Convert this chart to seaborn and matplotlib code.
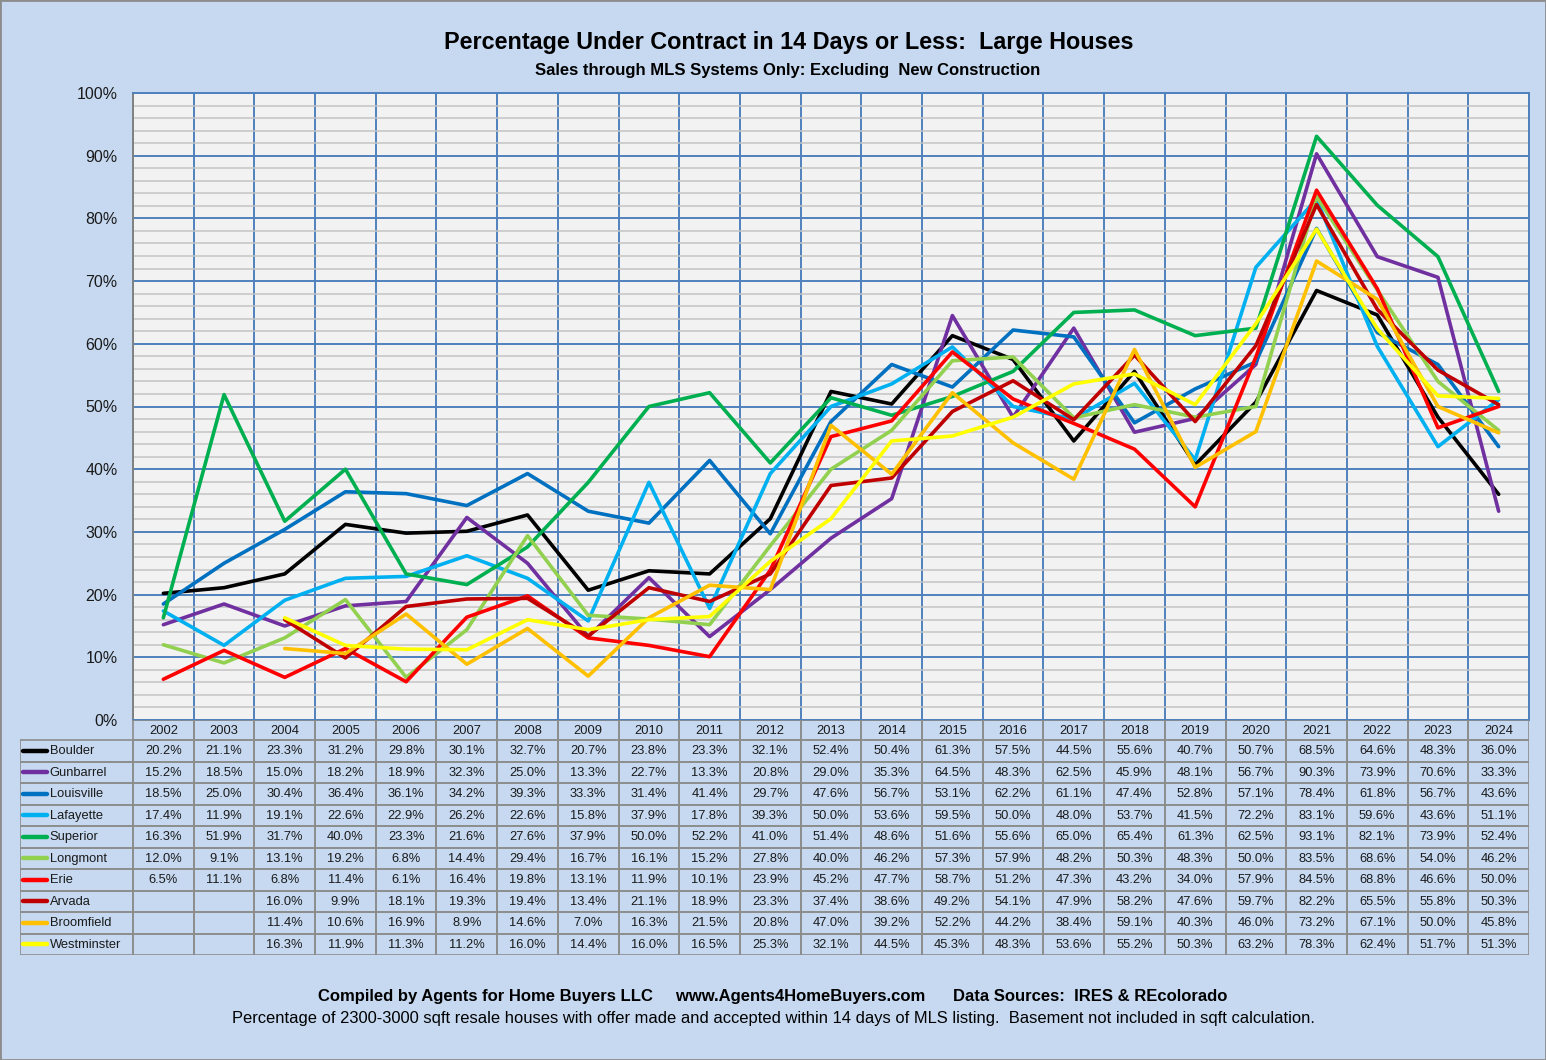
import numpy as np
import pandas as pd
import matplotlib
matplotlib.use("Agg")
import matplotlib.pyplot as plt
import seaborn as sns

# data
years = [str(y) for y in range(2002, 2025)]
towns = ["Boulder", "Gunbarrel", "Louisville", "Lafayette", "Superior",
         "Longmont", "Erie", "Arvada", "Broomfield", "Westminster"]
colors = ["#000000", "#7030A0", "#0070C0", "#00B0F0", "#00B050",
          "#92D050", "#FF0000", "#C00000", "#FFC000", "#FFFF00"]
nan = np.nan
boulder = [20.2, 21.1, 23.3, 31.2, 29.8, 30.1, 32.7, 20.7, 23.8, 23.3, 32.1, 52.4,
           50.4, 61.3, 57.5, 44.5, 55.6, 40.7, 50.7, 68.5, 64.6, 48.3, 36.0]
gunbarrel = [15.2, 18.5, 15.0, 18.2, 18.9, 32.3, 25.0, 13.3, 22.7, 13.3, 20.8, 29.0,
             35.3, 64.5, 48.3, 62.5, 45.9, 48.1, 56.7, 90.3, 73.9, 70.6, 33.3]
louisville = [18.5, 25.0, 30.4, 36.4, 36.1, 34.2, 39.3, 33.3, 31.4, 41.4, 29.7, 47.6,
              56.7, 53.1, 62.2, 61.1, 47.4, 52.8, 57.1, 78.4, 61.8, 56.7, 43.6]
lafayette = [17.4, 11.9, 19.1, 22.6, 22.9, 26.2, 22.6, 15.8, 37.9, 17.8, 39.3, 50.0,
             53.6, 59.5, 50.0, 48.0, 53.7, 41.5, 72.2, 83.1, 59.6, 43.6, 51.1]
superior = [16.3, 51.9, 31.7, 40.0, 23.3, 21.6, 27.6, 37.9, 50.0, 52.2, 41.0, 51.4,
            48.6, 51.6, 55.6, 65.0, 65.4, 61.3, 62.5, 93.1, 82.1, 73.9, 52.4]
longmont = [12.0, 9.1, 13.1, 19.2, 6.8, 14.4, 29.4, 16.7, 16.1, 15.2, 27.8, 40.0,
            46.2, 57.3, 57.9, 48.2, 50.3, 48.3, 50.0, 83.5, 68.6, 54.0, 46.2]
erie = [6.5, 11.1, 6.8, 11.4, 6.1, 16.4, 19.8, 13.1, 11.9, 10.1, 23.9, 45.2,
        47.7, 58.7, 51.2, 47.3, 43.2, 34.0, 57.9, 84.5, 68.8, 46.6, 50.0]
arvada = [nan, nan, 16.0, 9.9, 18.1, 19.3, 19.4, 13.4, 21.1, 18.9, 23.3, 37.4,
          38.6, 49.2, 54.1, 47.9, 58.2, 47.6, 59.7, 82.2, 65.5, 55.8, 50.3]
broomfield = [nan, nan, 11.4, 10.6, 16.9, 8.9, 14.6, 7.0, 16.3, 21.5, 20.8, 47.0,
              39.2, 52.2, 44.2, 38.4, 59.1, 40.3, 46.0, 73.2, 67.1, 50.0, 45.8]
westminster = [nan, nan, 16.3, 11.9, 11.3, 11.2, 16.0, 14.4, 16.0, 16.5, 25.3, 32.1,
               44.5, 45.3, 48.3, 53.6, 55.2, 50.3, 63.2, 78.3, 62.4, 51.7, 51.3]
series = [boulder, gunbarrel, louisville, lafayette, superior,
          longmont, erie, arvada, broomfield, westminster]

rows = []
for town, vals in zip(towns, series):
    for i, v in enumerate(vals):
        rows.append({"town": town, "idx": i, "pct": v})
df = pd.DataFrame(rows)

sns.set_style("white")
plt.rcParams["font.family"] = ["Liberation Sans", "DejaVu Sans"]
plt.rcParams["text.color"] = "black"

W, H = 1546, 1060
bg = "#C6D9F1"
blue = "#4F81BD"
fig = plt.figure(figsize=(W / 100, H / 100), dpi=100, facecolor=bg)

def box(l, t, r, b):
    return [l / W, 1 - b / H, (r - l) / W, (b - t) / H]

# ---- line chart
ax = fig.add_axes(box(133, 93, 1529, 720))
ax.set_facecolor("#F2F2F2")
sns.lineplot(data=df, x="idx", y="pct", hue="town", hue_order=towns,
             palette=dict(zip(towns, colors)), linewidth=2.6, errorbar=None,
             legend=False, ax=ax)
n = len(years)
ax.set_xlim(-0.5, n - 0.5)
ax.set_ylim(0, 100)
ax.set_yticks(np.arange(0, 101, 10))
ax.set_yticks(np.arange(0, 101, 2), minor=True)
ax.set_yticklabels([f"{v}%" for v in range(0, 101, 10)], fontsize=11.5, color="#1a1a1a")
ax.set_xticks(np.arange(-0.5, n, 1))
ax.set_xticklabels([])
ax.grid(which="minor", axis="y", color="#C4C4C4", lw=1.1, zorder=0)
ax.grid(which="major", axis="y", color=blue, lw=1.4, zorder=0)
ax.grid(which="major", axis="x", color=blue, lw=1.4, zorder=0)
ax.set_axisbelow(True)
ax.tick_params(axis="y", which="major", length=5, color="#808080", pad=6)
ax.tick_params(axis="y", which="minor", length=0)
ax.tick_params(axis="x", length=0)
ax.set_xlabel("")
ax.set_ylabel("")
for s in ax.spines.values():
    s.set_color(blue)
    s.set_linewidth(1.4)
ax.spines["left"].set_color("#808080")

# ---- data table
unit = (1529 - 133) / n
left = -0.5 - (133 - 20) / unit
tab = fig.add_axes(box(20, 720, 1529, 955))
tab.set_xlim(left, n - 0.5)
tab.set_ylim(235, 0)
tab.axis("off")
grey = "#8C8C8C"
hh, rh = 20, 21.5
for i, y in enumerate(years):
    tab.add_patch(plt.Rectangle((i - 0.5, 0), 1, hh, fc="none", ec=grey, lw=1.2))
    tab.text(i, hh / 2 + 0.5, y, ha="center", va="center", fontsize=9.3, color="#1a1a1a")
for r, (town, c, vals) in enumerate(zip(towns, colors, series)):
    y0 = hh + r * rh
    tab.add_patch(plt.Rectangle((left, y0), -0.5 - left, rh, fc="none", ec=grey, lw=1.2))
    tab.plot([left + 0.05, left + 0.45], [y0 + rh / 2] * 2, color=c, lw=3.2,
             solid_capstyle="round")
    tab.text(left + 0.49, y0 + rh / 2 + 0.5, town, ha="left", va="center",
             fontsize=9.3, color="#1a1a1a")
    for i, v in enumerate(vals):
        tab.add_patch(plt.Rectangle((i - 0.5, y0), 1, rh, fc="none", ec=grey, lw=1.2))
        if not np.isnan(v):
            tab.text(i, y0 + rh / 2 + 0.5, f"{v:.1f}%", ha="center", va="center",
                     fontsize=9.3, color="#1a1a1a")

# ---- titles and notes
fig.text(789 / W, 1 - 42 / H, "Percentage Under Contract in 14 Days or Less:  Large Houses",
         ha="center", va="center", fontsize=16.8, fontweight="bold")
fig.text(788 / W, 1 - 70 / H, "Sales through MLS Systems Only: Excluding  New Construction",
         ha="center", va="center", fontsize=12, fontweight="bold")
fig.text(773 / W, 1 - 996 / H,
         "Compiled by Agents for Home Buyers LLC     www.Agents4HomeBuyers.com      Data Sources:  IRES & REcolorado",
         ha="center", va="center", fontsize=12, fontweight="bold")
fig.text(773 / W, 1 - 1018 / H,
         "Percentage of 2300-3000 sqft resale houses with offer made and accepted within 14 days of MLS listing.  Basement not included in sqft calculation.",
         ha="center", va="center", fontsize=11.9)

fig.patches.append(plt.Rectangle((0, 0), 1, 1, transform=fig.transFigure,
                                 fc="none", ec="#8C8C8C", lw=2))
fig.savefig("out.png", dpi=100, facecolor=bg)
